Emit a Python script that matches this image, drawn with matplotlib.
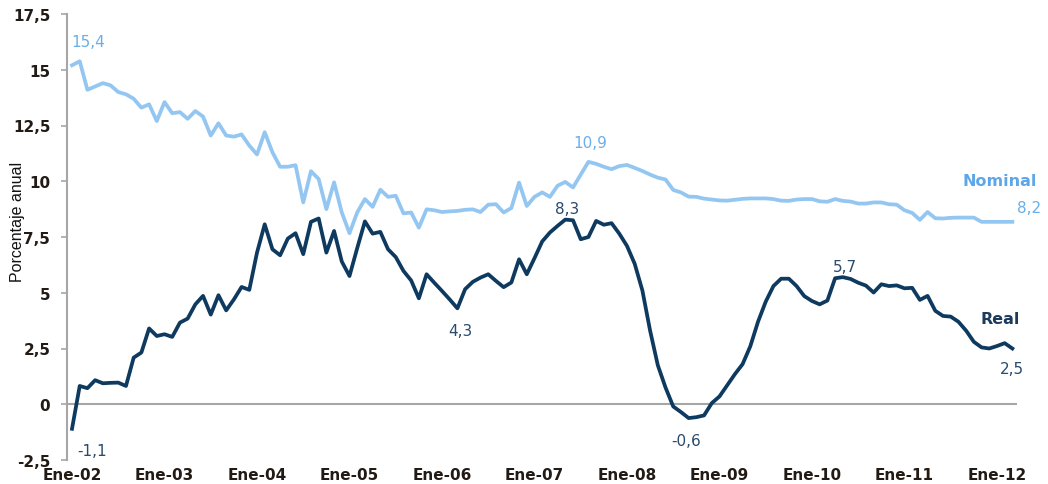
import matplotlib
matplotlib.use("Agg")
import matplotlib.pyplot as plt
import numpy as np

# ---- data (monthly, Ene-2002 .. Mar-2012) ----
nominal = [
    15.2, 15.38, 14.1, 14.25, 14.4, 14.3, 14.0, 13.9, 13.7, 13.3, 13.45, 12.7,
    13.55, 13.05, 13.1, 12.8, 13.15, 12.9, 12.05, 12.6, 12.05, 12.0, 12.1, 11.6,
    11.2, 12.2, 11.3, 10.65, 10.65, 10.72, 9.05, 10.45, 10.1, 8.75, 9.95, 8.6,
    7.67, 8.6, 9.2, 8.85, 9.62, 9.3, 9.35, 8.56, 8.6, 7.92, 8.74, 8.7,
    8.62, 8.65, 8.67, 8.72, 8.74, 8.62, 8.95, 8.97, 8.6, 8.8, 9.94, 8.89,
    9.3, 9.5, 9.3, 9.8, 9.97, 9.72, 10.3, 10.87, 10.78, 10.65, 10.54, 10.68,
    10.73, 10.6, 10.46, 10.3, 10.16, 10.08, 9.61, 9.5, 9.31, 9.3, 9.22, 9.18,
    9.14, 9.13, 9.17, 9.21, 9.23, 9.23, 9.23, 9.2, 9.13, 9.12, 9.18, 9.2,
    9.2, 9.1, 9.08, 9.2, 9.12, 9.09, 9.0, 9.0, 9.05, 9.05, 8.97, 8.95,
    8.7, 8.58, 8.27, 8.62, 8.34, 8.33, 8.36, 8.37, 8.37, 8.37, 8.18, 8.18,
    8.18, 8.18, 8.18,
]
real = [
    -1.1, 0.82, 0.72, 1.08, 0.94, 0.96, 0.97, 0.82, 2.09, 2.32, 3.4, 3.06,
    3.14, 3.02, 3.66, 3.84, 4.48, 4.86, 4.02, 4.89, 4.21, 4.7, 5.26, 5.13,
    6.8, 8.07, 6.95, 6.68, 7.43, 7.67, 6.73, 8.18, 8.33, 6.8, 7.77, 6.4,
    5.75, 7.0, 8.2, 7.65, 7.73, 6.95, 6.6, 5.98, 5.55, 4.75, 5.83, 5.45,
    5.08, 4.7, 4.3, 5.16, 5.49, 5.68, 5.83, 5.53, 5.25, 5.46, 6.5, 5.83,
    6.55, 7.3, 7.7, 8.0, 8.28, 8.25, 7.4, 7.5, 8.22, 8.05, 8.12, 7.65,
    7.1, 6.3, 5.1, 3.3, 1.75, 0.75, -0.1, -0.35, -0.62, -0.58, -0.5, 0.05,
    0.35, 0.85, 1.35, 1.8, 2.6, 3.7, 4.6, 5.3, 5.63, 5.63, 5.3, 4.85,
    4.63, 4.48, 4.65, 5.65, 5.7, 5.62, 5.45, 5.32, 5.01, 5.38, 5.3, 5.33,
    5.2, 5.22, 4.68, 4.86, 4.19, 3.96, 3.93, 3.7, 3.3, 2.8, 2.55, 2.5,
    2.61, 2.74, 2.5,
]
x_tick_labels = ["Ene-02", "Ene-03", "Ene-04", "Ene-05", "Ene-06", "Ene-07",
                 "Ene-08", "Ene-09", "Ene-10", "Ene-11", "Ene-12"]
y_ticks = [-2.5, 0, 2.5, 5, 7.5, 10, 12.5, 15, 17.5]
y_tick_labels = ["-2,5", "0", "2,5", "5", "7,5", "10", "12,5", "15", "17,5"]
y_label = "Porcentaje anual"

# annotated values: (index, text, dx px, dy px)
nominal_notes = [(1, "15,4", 8, 20), (67, "10,9", 2, 19), (122, "8,2", 17, 14)]
real_notes = [(0, "-1,1", 20, -22), (50, "4,3", 3, -22), (64, "8,3", 2, 11),
              (80, "-0,6", -3, -22), (100, "5,7", 2, 11), (122, "2,5", 0, -20)]

# ---- styling ----
c_nom = "#94c6f2"
c_real = "#0f3a60"
c_nom_txt = "#6aaeea"
c_real_txt = "#2a4a6e"
c_axis = "#a6a6a6"
c_tick = "#221a14"

fig = plt.figure(figsize=(10.48, 4.85), dpi=100)
ax = fig.add_axes([67 / 1048, 1 - 461 / 485, (1017 - 67) / 1048, (461 - 15) / 485])

x = np.arange(len(nominal))
ax.plot(x, nominal, color=c_nom, lw=2.7, solid_joinstyle="round", zorder=3)
ax.plot(x, real, color=c_real, lw=2.7, solid_joinstyle="round", zorder=4)

ax.axhline(0, color=c_axis, lw=1.5, zorder=1)

ax.set_xlim(-0.65, 122.6)
ax.set_ylim(-2.5, 17.5)

ax.set_yticks(y_ticks)
ax.set_yticklabels(y_tick_labels)
ax.set_xticks(np.arange(len(x_tick_labels)) * 12)
ax.set_xticklabels(x_tick_labels)

for s in ["top", "right", "bottom"]:
    ax.spines[s].set_visible(False)
ax.spines["left"].set_color(c_axis)
ax.spines["left"].set_linewidth(1.5)

ax.tick_params(axis="y", direction="out", length=4, width=1.2, color=c_axis,
               pad=8, labelsize=11, labelcolor=c_tick)
ax.tick_params(axis="x", length=0, pad=5, labelsize=11, labelcolor=c_tick)
for lab in ax.get_xticklabels() + ax.get_yticklabels():
    lab.set_fontweight("bold")
    lab.set_family("DejaVu Sans")

fig.text(18 / 1048, 1 - 222 / 485, y_label, rotation=90, ha="center", va="center",
         fontsize=11.5, family="Liberation Sans", color="#111111")

for i, t, dx, dy in nominal_notes:
    ax.annotate(t, (x[i], nominal[i]), xytext=(dx, dy), textcoords="offset pixels",
                ha="center", va="center", fontsize=11, color=c_nom_txt)
for i, t, dx, dy in real_notes:
    ax.annotate(t, (x[i], real[i]), xytext=(dx, dy), textcoords="offset pixels",
                ha="center", va="center", fontsize=11, color=c_real_txt)

ax.text(120.4, 10.04, "Nominal", ha="center", va="center", fontsize=11.5,
        fontweight="bold", color="#5da6ea")
ax.text(120.4, 3.86, "Real", ha="center", va="center", fontsize=11.5,
        fontweight="bold", color="#1c3a5c")

fig.savefig("out.png", dpi=100)
